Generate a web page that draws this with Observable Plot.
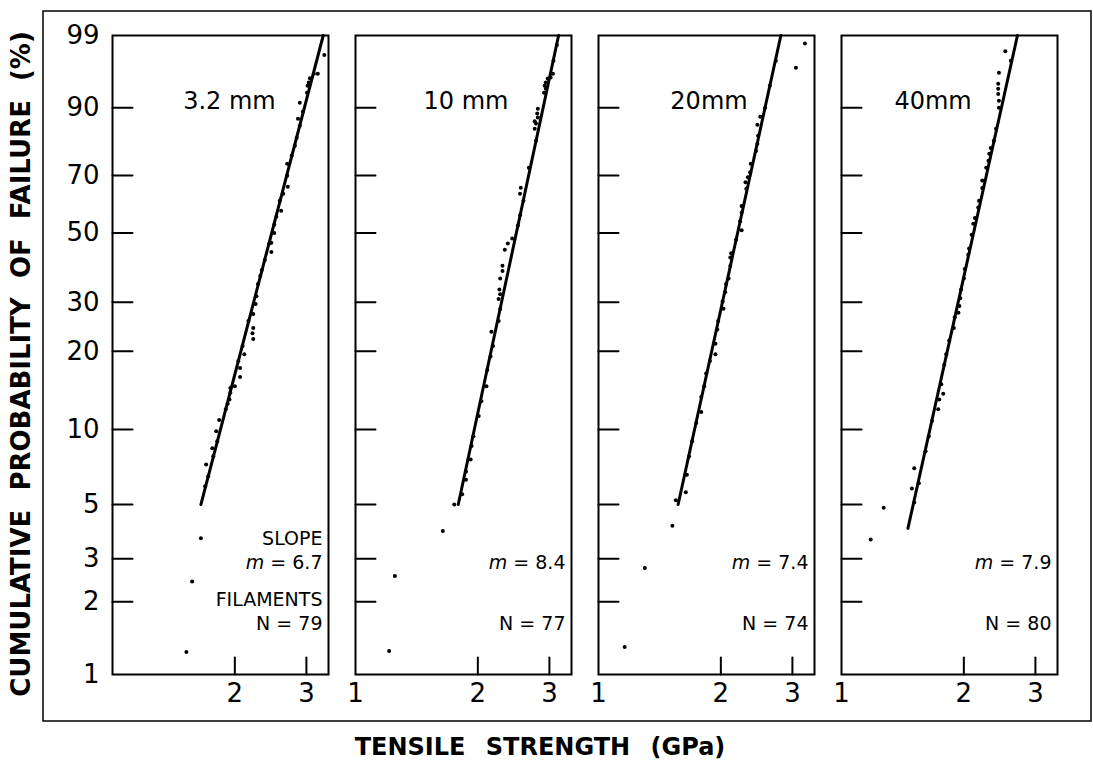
<!DOCTYPE html>
<html><head><meta charset="utf-8">
<script src="https://cdn.jsdelivr.net/npm/d3@7"></script>
<script src="https://cdn.jsdelivr.net/npm/@observablehq/plot@0.6"></script>
<style>
html,body{margin:0;padding:0;background:#fff;}
#chart{position:relative;width:1093px;height:762px;}
</style></head><body><div id="chart"></div>
<script>
// ---- data ----
const gauges = ["3.2 mm", "10 mm", "20mm", "40mm"];
const slopeM = ["6.7", "8.4", "7.4", "7.9"];
const nFilaments = [79, 77, 74, 80];
const yTicks = [1, 2, 3, 5, 10, 20, 30, 50, 70, 90, 99];
const xTicks = [1, 2, 3];

// tensile strength (GPa) and cumulative probability of failure (%)
const strength_3_2mm = [3.32,3.20,3.13,3.06,3.04,3.02,3.01,2.89,2.94,2.86,2.89,2.84,2.81,2.76,2.69,2.69,2.70,2.63,2.58,2.60,2.53,2.50,2.50,2.46,2.43,2.46,2.37,2.33,2.31,2.28,2.26,2.25,2.22,2.16,2.22,2.21,2.22,2.09,2.11,2.04,2.06,2.06,2.00,1.95,1.95,1.94,1.92,1.90,1.83,1.80,1.81,1.76,1.77,1.70,1.72,1.69,1.65,1.57,1.52];
const failure_3_2mm  = [97.8,95.9,95.9,95.3,94.7,94.2,93.0,91.1,89.1,87.4,85.6,82.2,79.8,76.6,74.0,69.9,66.0,63.6,61.1,57.6,55.5,52.8,50.0,46.8,46.5,43.9,41.4,38.5,36.8,34.6,31.5,29.6,27.3,25.8,24.3,23.3,22.2,20.9,19.5,18.4,17.3,16.0,14.75,14.5,13.9,13.1,12.6,12.0,10.9,9.84,8.98,8.42,7.82,7.26,6.50,5.93,3.64,2.42,1.24];

const strength_10mm = [3.13,3.07,3.06,3.02,2.97,2.94,2.92,2.94,2.91,2.81,2.80,2.81,2.76,2.78,2.76,2.78,2.67,2.55,2.54,2.59,2.54,2.51,2.43,2.37,2.33,2.30,2.30,2.27,2.26,2.27,2.25,2.27,2.25,2.16,2.18,2.15,2.11,2.10,2.04,2.01,1.95,1.93,1.92,1.87,1.87,1.83,1.75,1.64,1.25,1.21];
const failure_10mm  = [98.5,97.3,95.9,95.4,95.25,94.7,94.2,93.7,93.0,89.8,88.7,87.7,86.8,86.2,84.8,81.3,72.6,65.7,63.6,61.1,56.0,52.5,48.2,46.6,44.6,39.7,38.2,36.1,33.2,32.0,30.8,28.4,25.8,23.6,20.9,19.1,17.0,14.75,12.9,11.3,9.4,8.6,7.6,6.8,6.3,5.5,5.0,3.9,2.55,1.25];

const strength_20mm = [3.22,3.06,2.73,2.64,2.57,2.50,2.46,2.47,2.46,2.44,2.37,2.36,2.33,2.30,2.31,2.25,2.25,2.23,2.25,2.18,2.12,2.11,2.11,2.09,2.06,2.05,2.02,2.03,1.97,1.96,1.94,1.94,1.88,1.84,1.82,1.79,1.79,1.74,1.70,1.67,1.65,1.64,1.55,1.52,1.30,1.16];
const failure_20mm  = [98.6,96.6,97.3,94.2,90.0,87.9,85.9,82.8,80.4,78.2,74.0,71.1,69.4,67.6,65.3,59.3,56.9,54.0,50.9,47.8,43.5,42.2,39.7,36.1,34.6,32.5,30.2,28.5,25.8,24.0,21.3,19.5,18.4,16.5,14.75,13.4,11.7,10.6,8.98,7.8,6.6,5.6,5.2,4.1,2.75,1.30];

const strength_40mm = [2.53,2.61,2.44,2.43,2.43,2.43,2.44,2.44,2.40,2.37,2.33,2.31,2.30,2.27,2.22,2.22,2.18,2.17,2.13,2.11,2.09,2.06,2.05,2.01,2.00,1.97,1.96,1.95,1.94,1.90,1.89,1.84,1.81,1.79,1.76,1.78,1.74,1.73,1.67,1.64,1.61,1.51,1.55,1.49,1.51,1.27,1.18];
const failure_40mm  = [98.1,97.3,96.0,94.5,93.7,92.8,91.5,90.0,84.8,81.3,79.1,77.3,75.0,72.6,68.2,65.6,61.1,58.7,55.1,53.1,49.4,45.0,43.0,38.8,36.1,33.2,31.0,29.1,27.6,26.6,24.3,21.9,19.5,17.8,15.0,13.8,13.1,12.0,10.8,9.4,8.2,7.0,6.1,5.8,5.1,4.85,3.6];

// fitted Weibull lines: [start, end] strength (GPa) and failure (%)
const fitStrength = [[1.65, 3.30], [1.79, 3.16], [1.57, 2.81], [1.457, 2.71]];
const fitFailure  = [[5, 99], [5, 99], [5, 99], [4.0, 99]];

// ---- build tables ----
const strengths = [strength_3_2mm, strength_10mm, strength_20mm, strength_40mm];
const failures = [failure_3_2mm, failure_10mm, failure_20mm, failure_40mm];
const weib = p => Math.log(-Math.log(1 - p / 100));

const points = gauges.flatMap((g, i) => strengths[i].map((s, j) => ({panel: g, s, w: weib(failures[i][j])})));
const fits = gauges.flatMap((g, i) => fitStrength[i].map((s, j) => ({panel: g, s, w: weib(fitFailure[i][j])})));
const yTickRows = yTicks.map(v => ({v, w: weib(v)}));
const innerYTicks = yTickRows.filter(d => d.v !== 1 && d.v !== 99);
const xLabelRows = gauges.flatMap((g, i) => xTicks.filter(t => !(i === 0 && t === 1)).map(t => ({panel: g, t})));
const annRows = gauges.map((g, i) => ({panel: g, m: `m = ${slopeM[i]}`, n: `N = ${nFilaments[i]}`}));

const font = "'DejaVu Sans', sans-serif";
const tickLine = {draw(context, l) { context.moveTo(0, 0); context.lineTo(0, -l); }};

const chart = Plot.plot({
  width: 1093, height: 762,
  marginLeft: 110, marginRight: 34, marginTop: 35, marginBottom: 88,
  style: {fontFamily: font, background: "white", color: "black", overflow: "visible"},
  fx: {domain: gauges, axis: null, paddingInner: 0.11, paddingOuter: 0},
  x: {type: "log", domain: [1, 3.4], axis: null},
  y: {domain: [weib(1), weib(99)], axis: null},
  marks: [
    Plot.frame({stroke: "black", strokeWidth: 2}),
    Plot.vector(innerYTicks, {y: "w", frameAnchor: "left", rotate: 90, length: 20, anchor: "start", shape: tickLine, stroke: "black", strokeWidth: 2}),
    Plot.vector([2, 3], {x: d => d, frameAnchor: "bottom", rotate: 0, length: 17, anchor: "start", shape: tickLine, stroke: "black", strokeWidth: 2}),
    Plot.line(fits, {x: "s", y: "w", z: "panel", fx: "panel", stroke: "black", strokeWidth: 3}),
    Plot.dot(points, {x: "s", y: "w", fx: "panel", r: 2, fill: "black", stroke: "none"}),
    Plot.text(yTickRows, {y: "w", fx: () => gauges[0], text: d => String(d.v), frameAnchor: "left", dx: -13, textAnchor: "end", fontSize: 26, fill: "black"}),
    Plot.text(xLabelRows, {x: "t", fx: "panel", text: d => String(d.t), frameAnchor: "bottom", dy: 27, fontSize: 26, fill: "black"}),
    Plot.text(gauges, {fx: d => d, x: (d, i) => [1.94, 1.87, 1.87, 1.68][i], text: d => d, frameAnchor: "top", dy: 56, fontSize: 24, fill: "black"}),
    Plot.text([gauges[0]], {fx: d => d, text: () => "SLOPE", frameAnchor: "bottom-right", dx: -6, dy: -130, lineAnchor: "bottom", textAnchor: "end", fontSize: 19, fill: "black"}),
    Plot.text([gauges[0]], {fx: d => d, text: () => "FILAMENTS", frameAnchor: "bottom-right", dx: -6, dy: -69, lineAnchor: "bottom", textAnchor: "end", fontSize: 19, fill: "black"}),
    Plot.text(annRows, {fx: "panel", text: "m", frameAnchor: "bottom-right", dx: -6, dy: -106, lineAnchor: "bottom", textAnchor: "end", fontSize: 19, fill: "black"}),
    Plot.text(annRows, {fx: "panel", text: "n", frameAnchor: "bottom-right", dx: -6, dy: -45, lineAnchor: "bottom", textAnchor: "end", fontSize: 19, fill: "black"})
  ]
});

document.getElementById("chart").appendChild(chart);

// italic m in slope labels
const svg = d3.select(chart.tagName.toLowerCase() === "svg" ? chart : chart.querySelector("svg"));
svg.selectAll("text").each(function() {
  const t = this.textContent;
  if (/^m = /.test(t) && this.children.length === 0) {
    const sel = d3.select(this);
    sel.text(null);
    sel.append("tspan").attr("font-style", "italic").text("m");
    sel.append("tspan").text(t.slice(1));
  }
});

// outer frame and overall axis titles
svg.append("rect").attr("x", 43).attr("y", 11).attr("width", 1048).attr("height", 710)
  .attr("fill", "none").attr("stroke", "black").attr("stroke-width", 1.5);
svg.append("text").attr("transform", "translate(21,364) rotate(-90)")
  .attr("text-anchor", "middle").attr("dominant-baseline", "central")
  .attr("font-family", font).attr("font-weight", "bold").attr("font-size", 26)
  .attr("word-spacing", 10).attr("fill", "black")
  .text("CUMULATIVE PROBABILITY OF FAILURE (%)");
svg.append("text").attr("x", 540).attr("y", 755)
  .attr("text-anchor", "middle")
  .attr("font-family", font).attr("font-weight", "bold").attr("font-size", 24)
  .attr("word-spacing", 12).attr("fill", "black")
  .text("TENSILE STRENGTH (GPa)");
</script>
</body></html>
